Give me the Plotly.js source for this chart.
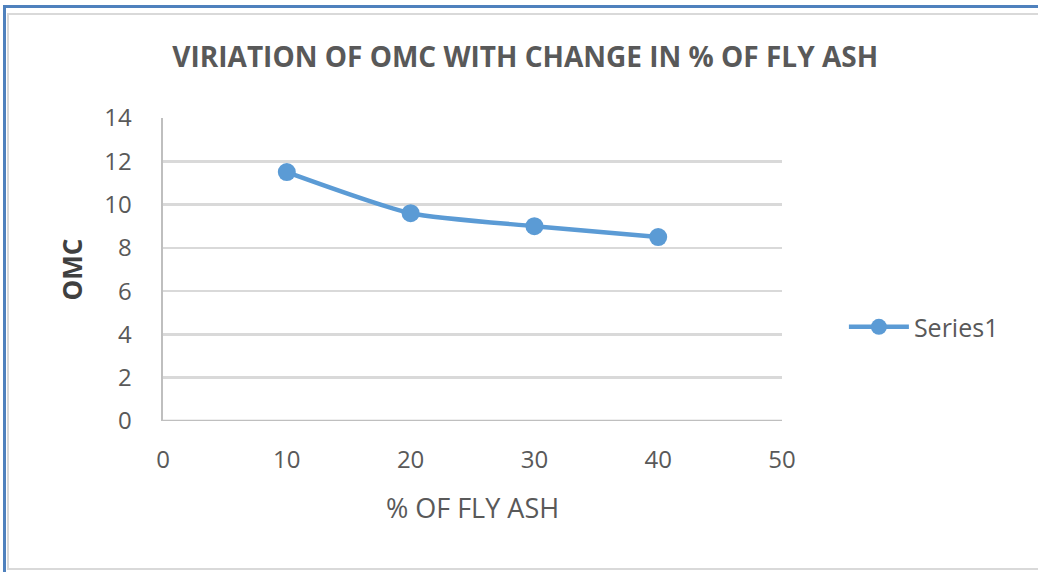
<!DOCTYPE html>
<html>
<head>
<meta charset="utf-8">
<script src="https://cdn.plot.ly/plotly-3.0.1.min.js"></script>
<style>
  html, body { margin: 0; padding: 0; background: #fff; }
  #wrap { position: relative; width: 1038px; height: 572px; overflow: hidden; }
  #chart { position: absolute; left: 0; top: 0; width: 1038px; height: 572px; }
  #outer { position: absolute; left: 3px; top: 5px; width: 1040px; height: 570px;
           border-left: 3px solid #4F81BD; border-top: 3px solid #4F81BD; pointer-events: none; }
  #inner { position: absolute; left: 7px; top: 13px; width: 1040px; height: 553px;
           border: 2px solid #D9D9D9; pointer-events: none; }
</style>
</head>
<body>
<div id="wrap">
  <div id="chart"></div>
  <div id="outer"></div>
  <div id="inner"></div>
</div>
<script>
const flyAshPercent = [10, 20, 30, 40];
const omcValues = [11.5, 9.6, 9.0, 8.5];
const seriesName = "Series1";
const xTicks = [0, 10, 20, 30, 40, 50];
const yTicks = [0, 2, 4, 6, 8, 10, 12, 14];

const FONT = "Open Sans, Liberation Sans, sans-serif";
const data = [{
  x: flyAshPercent,
  y: omcValues,
  name: seriesName,
  type: "scatter",
  mode: "lines+markers",
  line: { color: "#5B9BD5", width: 4.5, shape: "spline", smoothing: 0.6 },
  marker: { color: "#5B9BD5", size: 18 },
  showlegend: true
}];

const layout = {
  width: 1038, height: 572,
  paper_bgcolor: "#fff", plot_bgcolor: "#fff",
  margin: { l: 163, r: 256, t: 118, b: 151 },
  title: {
    text: "<b>VIRIATION OF OMC WITH CHANGE IN % OF FLY ASH</b>",
    font: { family: FONT, size: 28, color: "#595959" },
    x: 0.506, xanchor: "center", y: 0.9, yanchor: "middle"
  },
  xaxis: {
    range: [0, 50], tickvals: xTicks, ticktext: xTicks.map(String),
    showgrid: false, zeroline: false, showline: false, ticks: "",
    tickfont: { family: FONT, size: 24, color: "#595959" },
    ticklabelstandoff: 22,
    title: { text: "% OF FLY ASH", font: { family: FONT, size: 27, color: "#595959" }, standoff: 25 }
  },
  yaxis: {
    range: [0, 14], tickvals: yTicks, ticktext: yTicks.map(String),
    showgrid: true, gridcolor: "#D9D9D9", gridwidth: 2.5,
    zeroline: false, showline: true, linecolor: "#BFBFBF", linewidth: 2.5, ticks: "",
    tickfont: { family: FONT, size: 24, color: "#595959" },
    ticklabelstandoff: 24,
    title: { text: "<b>OMC</b>", font: { family: FONT, size: 26, color: "#404040" }, standoff: 14 }
  },
  shapes: [{
    type: "line", xref: "paper", yref: "y", x0: 0, x1: 1, y0: 0, y1: 0,
    line: { color: "#BFBFBF", width: 2.5 }, layer: "below"
  }],
  legend: {
    x: 1.1, xanchor: "left", y: 0.31, yanchor: "middle",
    font: { family: FONT, size: 25, color: "#595959" },
    bgcolor: "rgba(0,0,0,0)", itemwidth: 60
  },
  showlegend: true
};

Plotly.newPlot("chart", data, layout, { displayModeBar: false, staticPlot: true });
</script>
</body>
</html>
